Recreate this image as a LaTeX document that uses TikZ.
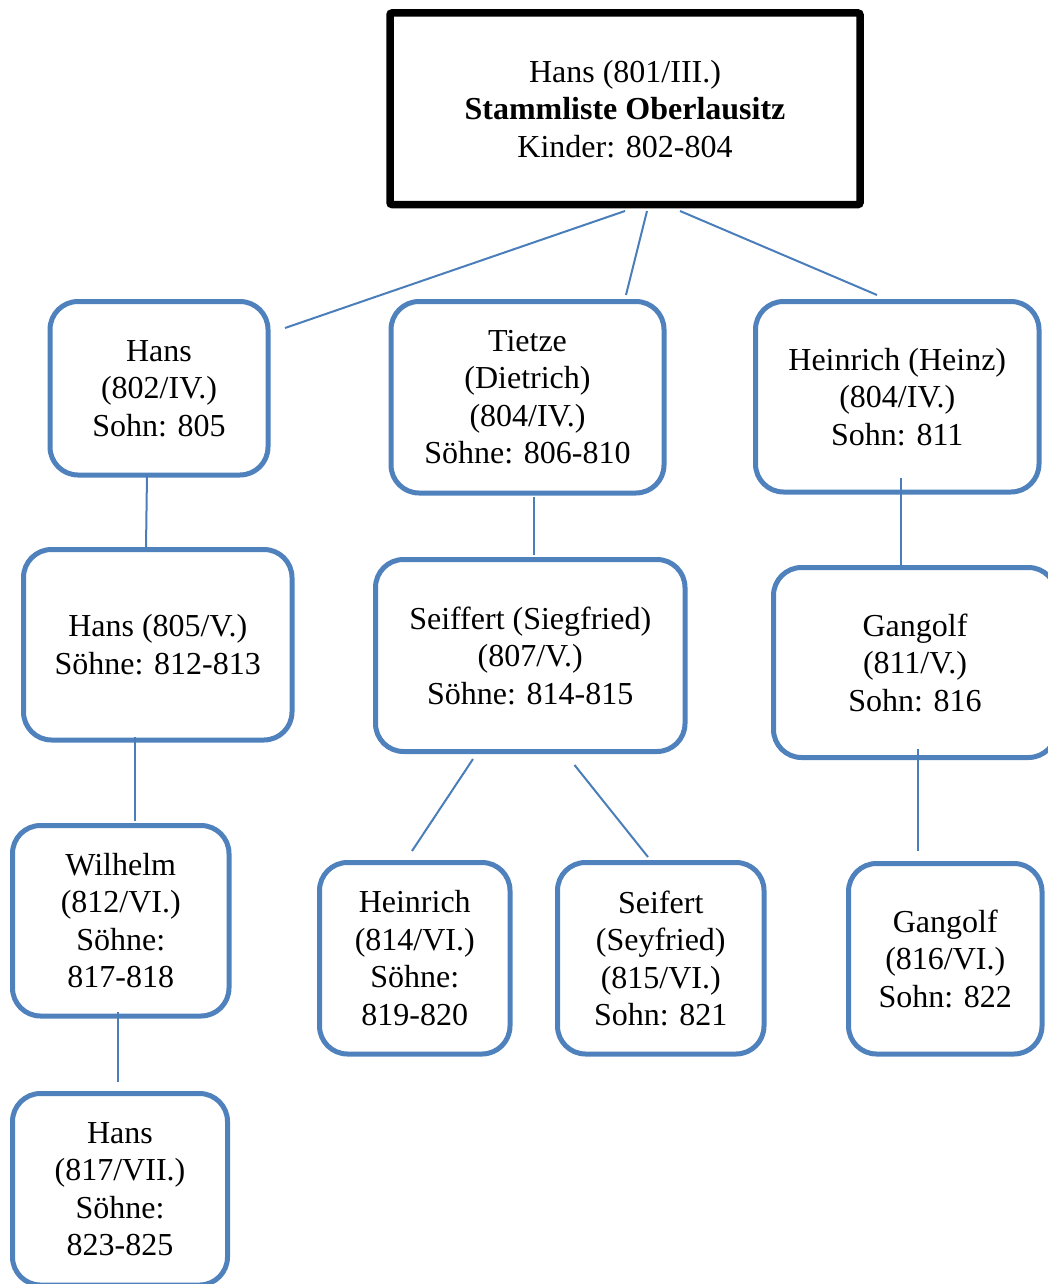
\documentclass[tikz,border=0pt]{standalone}
\usepackage{fontspec}
\setmainfont{Liberation Serif}
\definecolor{boxblue}{HTML}{4F81BD}
\definecolor{linkblue}{HTML}{4A7EBB}
\begin{document}
\begin{tikzpicture}[x=1pt,y=-1pt,
  person/.style={draw=boxblue, line width=5pt, rounded corners=28pt, fill=white,
    inner sep=0pt, align=center, font=\fontsize{32}{37.5}\selectfont},
  rootbox/.style={draw=black, line width=7.5pt, rounded corners=2pt, fill=white,
    inner sep=0pt, align=center, font=\fontsize{32}{37.5}\selectfont},
  link/.style={draw=linkblue, line width=2pt}]
\useasboundingbox (0,0) rectangle (1048,1284);
\clip (0,0) rectangle (1048,1284);

% generation III
\node[rootbox, minimum width=470pt, minimum height=191.5pt] (root) at (625,108.75)
  {Hans (801/III.)\\\textbf{Stammliste Oberlausitz}\\Kinder: 802-804};

% generation IV
\node[person, minimum width=218pt, minimum height=173.5pt] (h802) at (159,388.25)
  {Hans\\(802/IV.)\\Sohn: 805};
\node[person, minimum width=273pt, minimum height=191.5pt] (t804) at (527.5,397.25)
  {Tietze\\(Dietrich)\\(804/IV.)\\Söhne: 806-810};
\node[person, minimum width=283.5pt, minimum height=190.5pt] (h804) at (897.25,396.75)
  {Heinrich (Heinz)\\(804/IV.)\\Sohn: 811};

% generation V
\node[person, minimum width=268.5pt, minimum height=190.5pt] (h805) at (157.75,644.75)
  {Hans (805/V.)\\Söhne: 812-813};
\node[person, minimum width=309.5pt, minimum height=192pt] (s807) at (530.25,655.5)
  {Seiffert (Siegfried)\\(807/V.)\\Söhne: 814-815};
\node[person, minimum width=283pt, minimum height=190pt] (g811) at (915,662.5)
  {Gangolf\\(811/V.)\\Sohn: 816};

% generation VI
\node[person, minimum width=216.5pt, minimum height=190.5pt] (w812) at (120.75,920.75)
  {Wilhelm\\(812/VI.)\\Söhne:\\817-818};
\node[person, minimum width=190.5pt, minimum height=191.5pt] (h814) at (414.75,958.25)
  {Heinrich\\(814/VI.)\\Söhne:\\819-820};
\node[person, minimum width=206.5pt, minimum height=191.5pt] (s815) at (660.75,958.25)
  {Seifert\\(Seyfried)\\(815/VI.)\\Sohn: 821};
\node[person, minimum width=193.5pt, minimum height=190.5pt] (g816) at (945.25,958.75)
  {Gangolf\\(816/VI.)\\Sohn: 822};

% generation VII
\node[person, minimum width=215pt, minimum height=191.5pt] (h817) at (120,1189.25)
  {Hans\\(817/VII.)\\Söhne:\\823-825};

% connector ends, set slightly apart from the boxes
\coordinate (root-a) at (625,211);   \coordinate (h802-in) at (285,328);
\coordinate (root-b) at (647,211);   \coordinate (t804-in) at (626,295);
\coordinate (root-c) at (680,211);   \coordinate (h804-in) at (877,295);
\coordinate (h802-out) at (147,474); \coordinate (h805-in) at (146,548);
\coordinate (t804-out) at (533.5,497); \coordinate (s807-in) at (533.5,555);
\coordinate (h804-out) at (901,478); \coordinate (g811-in) at (901,566);
\coordinate (h805-out) at (135,737); \coordinate (w812-in) at (135,821);
\coordinate (s807-a) at (473,759);   \coordinate (h814-in) at (412,851);
\coordinate (s807-b) at (574.5,765); \coordinate (s815-in) at (648,857);
\coordinate (g811-out) at (918,749); \coordinate (g816-in) at (918,851);
\coordinate (w812-out) at (117.5,1012); \coordinate (h817-in) at (117.5,1082);

\draw[link] (root-a) -- (h802-in);
\draw[link] (root-b) -- (t804-in);
\draw[link] (root-c) -- (h804-in);
\draw[link] (h802-out) -- (h805-in);
\draw[link] (t804-out) -- (s807-in);
\draw[link] (h804-out) -- (g811-in);
\draw[link] (h805-out) -- (w812-in);
\draw[link] (s807-a) -- (h814-in);
\draw[link] (s807-b) -- (s815-in);
\draw[link] (g811-out) -- (g816-in);
\draw[link] (w812-out) -- (h817-in);
\end{tikzpicture}
\end{document}
